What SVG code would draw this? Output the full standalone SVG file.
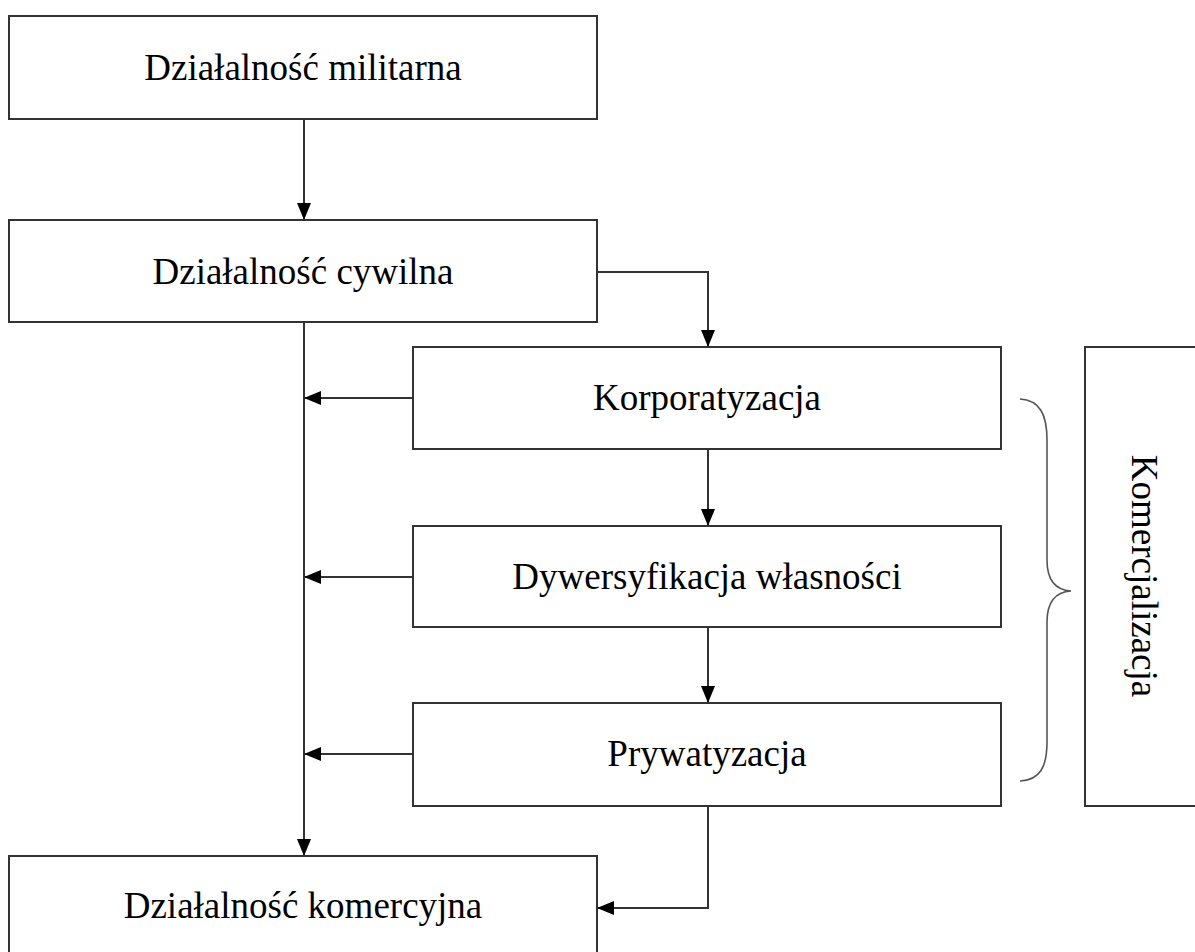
<svg xmlns="http://www.w3.org/2000/svg" width="1195" height="952" viewBox="0 0 1195 952">
<style>
.box{fill:#fff;stroke:#333;stroke-width:2}
.lbl{font-family:"Liberation Serif","Times New Roman",serif;font-size:37px;fill:#000;text-anchor:middle}
.con{fill:none;stroke:#333;stroke-width:2}
.brace{fill:none;stroke:#555;stroke-width:1.6}
</style>
<defs>
<marker id="ah" markerUnits="userSpaceOnUse" markerWidth="17" markerHeight="14" refX="17" refY="7" orient="auto">
<path d="M0,0 L17,7 L0,14 z" fill="#000"/>
</marker>
</defs>
<rect width="1195" height="952" fill="#fff"/>
<g id="connectors">
<path class="con" d="M304,119 V220" marker-end="url(#ah)"/>
<path class="con" d="M597,272 H708 V347" marker-end="url(#ah)"/>
<path class="con" d="M413,398 H304" marker-end="url(#ah)"/>
<path class="con" d="M708,449 V526" marker-end="url(#ah)"/>
<path class="con" d="M413,577 H304" marker-end="url(#ah)"/>
<path class="con" d="M708,627 V703" marker-end="url(#ah)"/>
<path class="con" d="M413,754 H304" marker-end="url(#ah)"/>
<path class="con" d="M304,322 V856" marker-end="url(#ah)"/>
<path class="con" d="M708,806 V908 H597" marker-end="url(#ah)"/>
</g>
<g id="militarna">
<rect class="box" x="9" y="16" width="588" height="103"/>
<text class="lbl" x="303" y="80">Działalność militarna</text>
</g>
<g id="cywilna">
<rect class="box" x="9" y="220" width="588" height="102"/>
<text class="lbl" x="303" y="284">Działalność cywilna</text>
</g>
<g id="korporatyzacja">
<rect class="box" x="413" y="347" width="588" height="102"/>
<text class="lbl" x="707" y="410">Korporatyzacja</text>
</g>
<g id="dywersyfikacja">
<rect class="box" x="413" y="526" width="588" height="101"/>
<text class="lbl" x="707" y="589">Dywersyfikacja własności</text>
</g>
<g id="prywatyzacja">
<rect class="box" x="413" y="703" width="588" height="103"/>
<text class="lbl" x="707" y="766">Prywatyzacja</text>
</g>
<g id="komercyjna">
<rect class="box" x="9" y="856" width="588" height="104"/>
<text class="lbl" x="303" y="918">Działalność komercyjna</text>
</g>
<g id="brace">
<path class="brace" d="M1020,399 C1040,400 1047,415 1047,440 L1047,560 C1047,580 1055,590 1071,591 C1055,592 1047,602 1047,622 L1047,742 C1047,767 1040,780 1020,781"/>
</g>
<g id="komercjalizacja">
<rect class="box" x="1085" y="347" width="120" height="459"/>
<text class="lbl" transform="translate(1132,576) rotate(90)" x="0" y="0">Komercjalizacja</text>
</g>
</svg>
